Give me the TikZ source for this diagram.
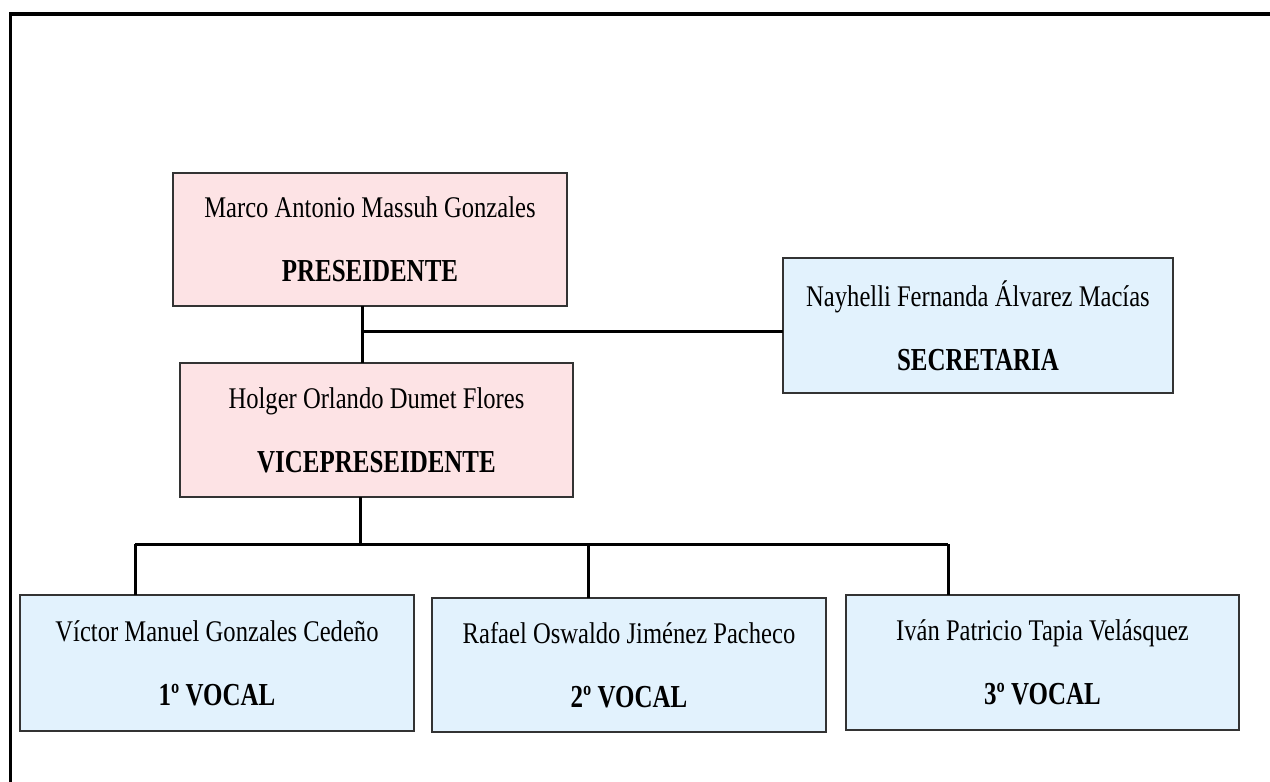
\documentclass[tikz,border=0pt]{standalone}
\usepackage{fontspec}
\setmainfont{Liberation Serif}[FakeStretch=0.82]
\newfontfamily\rolefont{Liberation Serif}[FakeStretch=0.78]
\newcommand{\role}[1]{{\fontsize{32}{64}\selectfont\rolefont\bfseries #1}}
\definecolor{pinkfill}{HTML}{FDE3E5}
\definecolor{bluefill}{HTML}{E2F2FD}
\definecolor{boxline}{HTML}{333333}
\tikzset{
  orgbox/.style={draw=boxline, line width=2pt, inner sep=0pt, outer sep=0pt,
    align=center, font=\fontsize{30}{64}\selectfont, text=black},
  pinkbox/.style={orgbox, fill=pinkfill},
  bluebox/.style={orgbox, fill=bluefill},
  link/.style={line width=3pt, draw=black},
  frameline/.style={line width=3.5pt, draw=black}
}
\begin{document}
\begin{tikzpicture}[x=1pt,y=-1pt]
\useasboundingbox (0,0) rectangle (1270,782);
\draw[frameline] (10.5,782) -- (10.5,14) -- (1270,14);

\node[pinkbox, minimum width=394pt, minimum height=133pt] (pres) at (370,239.5)
  {Marco Antonio Massuh Gonzales\\\role{PRESEIDENTE}};
\node[pinkbox, minimum width=393pt, minimum height=134pt] (vp) at (376.5,430)
  {Holger Orlando Dumet Flores\\\role{VICEPRESEIDENTE}};
\node[bluebox, minimum width=390pt, minimum height=135pt] (sec) at (978,325.5)
  {Nayhelli Fernanda Álvarez Macías\\\role{SECRETARIA}};
\node[bluebox, minimum width=394pt, minimum height=136pt] (v1) at (217,663)
  {Víctor Manuel Gonzales Cedeño\\\role{1º VOCAL}};
\node[bluebox, minimum width=394pt, minimum height=134pt] (v2) at (629,665)
  {Rafael Oswaldo Jiménez Pacheco\\\role{2º VOCAL}};
\node[bluebox, minimum width=393pt, minimum height=135pt] (v3) at (1042.5,662.5)
  {Iván Patricio Tapia Velásquez\\\role{3º VOCAL}};

\coordinate (ptop) at (362,306);
\coordinate (j1) at (362,331);
\draw[link] (pres.south -| ptop) -- (vp.north -| ptop);
\draw[link] (j1) -- (j1 -| sec.west);

\coordinate (vb) at (360,497);
\coordinate (bar) at (360,544);
\coordinate (d1) at (135,544);
\coordinate (d2) at (588,544);
\coordinate (d3) at (948,544);
\draw[link] (vp.south -| vb) -- (bar);
\draw[link] (d1) -- (d3);
\draw[link] (d1) -- (v1.north -| d1);
\draw[link] (d2) -- (v2.north -| d2);
\draw[link] (d3) -- (v3.north -| d3);
\end{tikzpicture}
\end{document}
